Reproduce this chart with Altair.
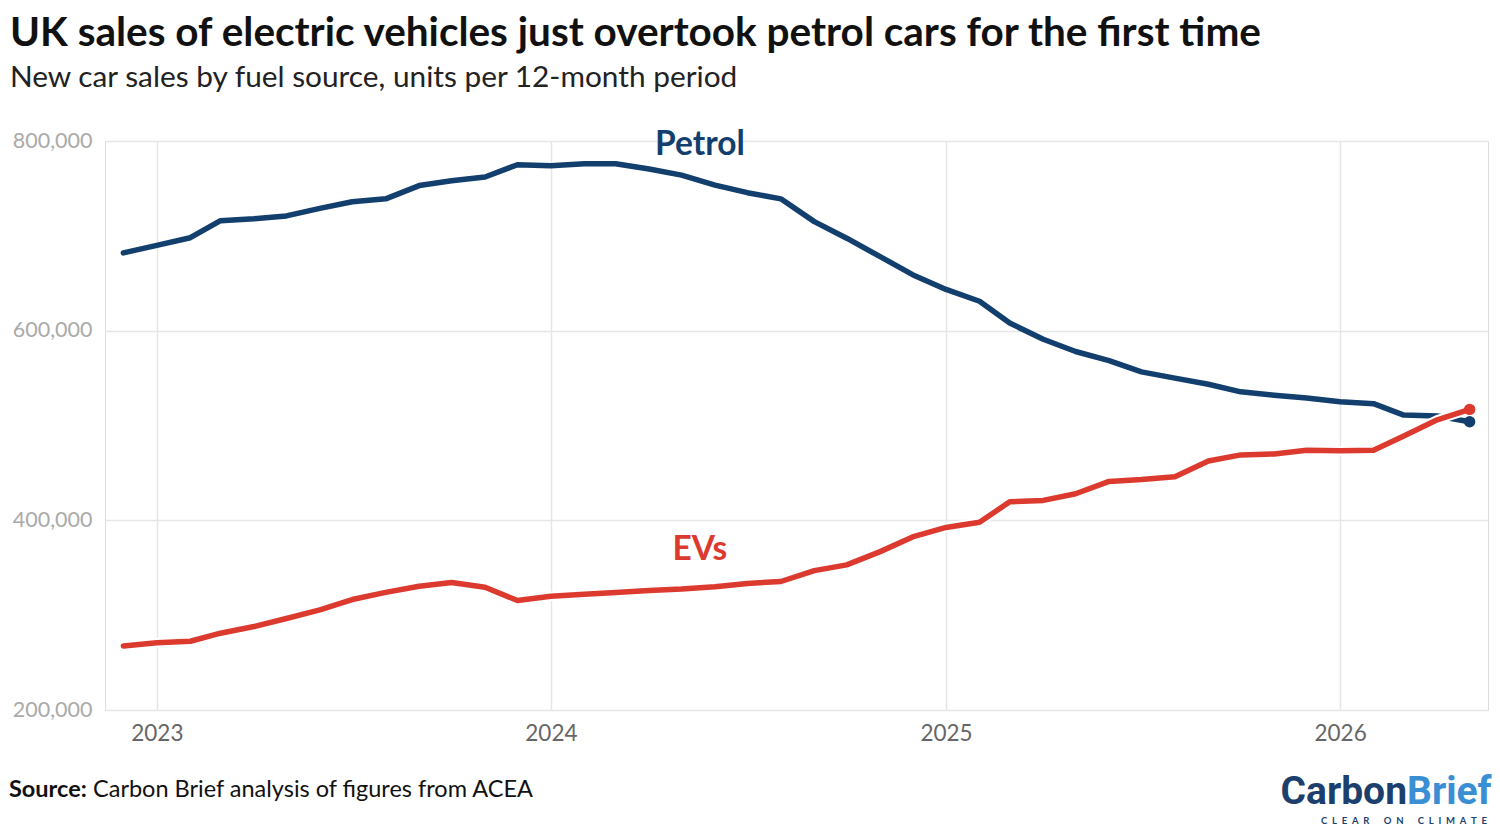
import altair as alt
import pandas as pd

# Monthly points, Dec 2022 - May 2026 (12-month rolling totals)
months = pd.date_range("2022-12-01", "2026-05-01", freq="MS").strftime("%Y-%m-%d").tolist()

petrol = [682000, 690000, 698000, 716000, 718000, 721000, 729000, 736000, 739000, 753000,
          758000, 762000, 775000, 774000, 776000, 776000, 770500, 764000, 753500, 745500,
          739000, 715000, 697500, 678000, 659000, 643500, 631000, 608000, 591000, 578000,
          568500, 556500, 550000, 543500, 535500, 532000, 529000, 525000, 523000, 511000,
          510000, 504000]

evs = [267500, 271000, 272500, 281000, 288000, 296500, 305500, 316500, 324000, 330500,
       334500, 329500, 315500, 320000, 322000, 324000, 326000, 327500, 330000, 333500,
       335500, 347000, 353000, 367000, 382500, 392500, 398000, 419500, 421000, 428000,
       441000, 443000, 446000, 462500, 469000, 470000, 474000, 473500, 474000, 489000,
       506000, 517000]

fuels = ["Petrol", "EVs"]
colors = ["#123f6e", "#dc3a2f"]

label_names = ["Petrol", "EVs"]
label_dates = ["2024-05-18", "2024-05-18"]
label_values = [796000, 368500]

y_ticks = [200000, 400000, 600000, 800000]
year_ticks = [2023, 2024, 2025, 2026]

df = pd.DataFrame({
    "month": months * 2,
    "fuel": ["Petrol"] * len(petrol) + ["EVs"] * len(evs),
    "units": petrol + evs,
})
last = df[df["month"] == months[-1]]
labels = pd.DataFrame({"name": label_names, "month": label_dates, "units": label_values})

W, H = 1383, 569
FONT = "Lato"

x_enc = alt.X(
    "month:T",
    scale=alt.Scale(domain=[alt.DateTime(year=2022, month=11, date=14),
                            alt.DateTime(year=2026, month=5, date=18)]),
    axis=alt.Axis(
        values=[alt.DateTime(year=y, month=1, date=1) for y in year_ticks],
        format="%Y", title=None, domain=False, ticks=False,
        labelFontSize=22.5, labelColor="#666666", labelPadding=12, labelFont=FONT,
        grid=True, gridColor="#e6e6e6", gridWidth=1.5,
    ),
)
y_enc = alt.Y(
    "units:Q",
    scale=alt.Scale(domain=[200000, 800000]),
    axis=alt.Axis(
        values=y_ticks, format=",d", title=None, domain=False, ticks=False,
        labelFontSize=21.5, labelColor="#aaaaaa", labelPadding=13, labelFont=FONT,
        grid=True, gridColor="#e6e6e6", gridWidth=1.5,
    ),
)
color_enc = alt.Color("fuel:N", scale=alt.Scale(domain=fuels, range=colors), legend=None)

base = alt.Chart(df)
petrol_line = base.transform_filter(alt.datum.fuel == "Petrol").mark_line(
    strokeWidth=5.5, strokeCap="round", strokeJoin="round").encode(x=x_enc, y=y_enc, color=color_enc)
ev_halo = base.transform_filter(alt.datum.fuel == "EVs").mark_line(
    strokeWidth=9.5, strokeCap="round", strokeJoin="round", color="white").encode(x="month:T", y="units:Q")
ev_line = base.transform_filter(alt.datum.fuel == "EVs").mark_line(
    strokeWidth=5.5, strokeCap="round", strokeJoin="round").encode(x="month:T", y="units:Q", color=color_enc)

petrol_dot = alt.Chart(last).transform_filter(alt.datum.fuel == "Petrol").mark_point(
    filled=True, size=130, opacity=1).encode(x="month:T", y="units:Q", color=color_enc)
ev_dot = alt.Chart(last).transform_filter(alt.datum.fuel == "EVs").mark_point(
    filled=True, size=130, opacity=1).encode(x="month:T", y="units:Q", color=color_enc)

line_labels = alt.Chart(labels).mark_text(
    font=FONT, fontSize=33.5, fontWeight="bold", align="center", baseline="middle").encode(
    x="month:T", y="units:Q", text="name:N",
    color=alt.Color("name:N", scale=alt.Scale(domain=fuels, range=colors), legend=None))

src_bold = alt.Chart(pd.DataFrame({"t": ["Source:"]})).mark_text(
    font=FONT, fontSize=23.5, fontWeight="bold", color="#111111", align="left", baseline="alphabetic").encode(
    x=alt.value(-96), y=alt.value(656), text="t:N")
src_text = alt.Chart(pd.DataFrame({"t": ["Carbon Brief analysis of figures from ACEA"]})).mark_text(
    font=FONT, fontSize=23.5, color="#111111", align="left", baseline="alphabetic").encode(
    x=alt.value(-12), y=alt.value(656), text="t:N")

LOGO_FONT = "Roboto"
logo_carbon = alt.Chart(pd.DataFrame({"t": ["Carbon"]})).mark_text(
    font=LOGO_FONT, fontSize=39, fontWeight="bold", color="#1c3f6e", align="right", baseline="alphabetic").encode(
    x=alt.value(1302), y=alt.value(663), text="t:N")
logo_brief = alt.Chart(pd.DataFrame({"t": ["Brief"]})).mark_text(
    font=LOGO_FONT, fontSize=39, fontWeight="bold", color="#3a8ed4", align="left", baseline="alphabetic").encode(
    x=alt.value(1302), y=alt.value(663), text="t:N")
tag = "\u2002".join("CLEAR") + "\u2002\u2002\u2002" + "\u2002".join("ON") + "\u2002\u2002\u2002" + "\u2002".join("CLIMATE")
logo_tag = alt.Chart(pd.DataFrame({"t": [tag]})).mark_text(
    font=FONT, fontSize=9.5, fontWeight="bold", color="#1c3f6e", align="right", baseline="alphabetic").encode(
    x=alt.value(1382), y=alt.value(683), text="t:N")

chart = alt.layer(
    petrol_line, petrol_dot, ev_halo, ev_line, ev_dot, line_labels,
    src_bold, src_text, logo_carbon, logo_brief, logo_tag,
).properties(
    width=W, height=H,
    title=alt.TitleParams(
        text="UK sales of electric vehicles just overtook petrol cars for the first time",
        subtitle="New car sales by fuel source, units per 12-month period",
        anchor="start", frame="group", dx=-95, offset=35,
        font=FONT, fontSize=40.5, fontWeight="bold", color="#111111",
        subtitleFont=FONT, subtitleFontSize=29.8, subtitleColor="#222222", subtitlePadding=8,
    ),
    autosize=alt.AutoSizeParams(type="none"),
    padding={"left": 97, "top": 133, "right": 4, "bottom": 120},
).configure_view(stroke=None).configure(background="white")

chart.save("out.html", embed_options={"renderer": "svg", "actions": False})
